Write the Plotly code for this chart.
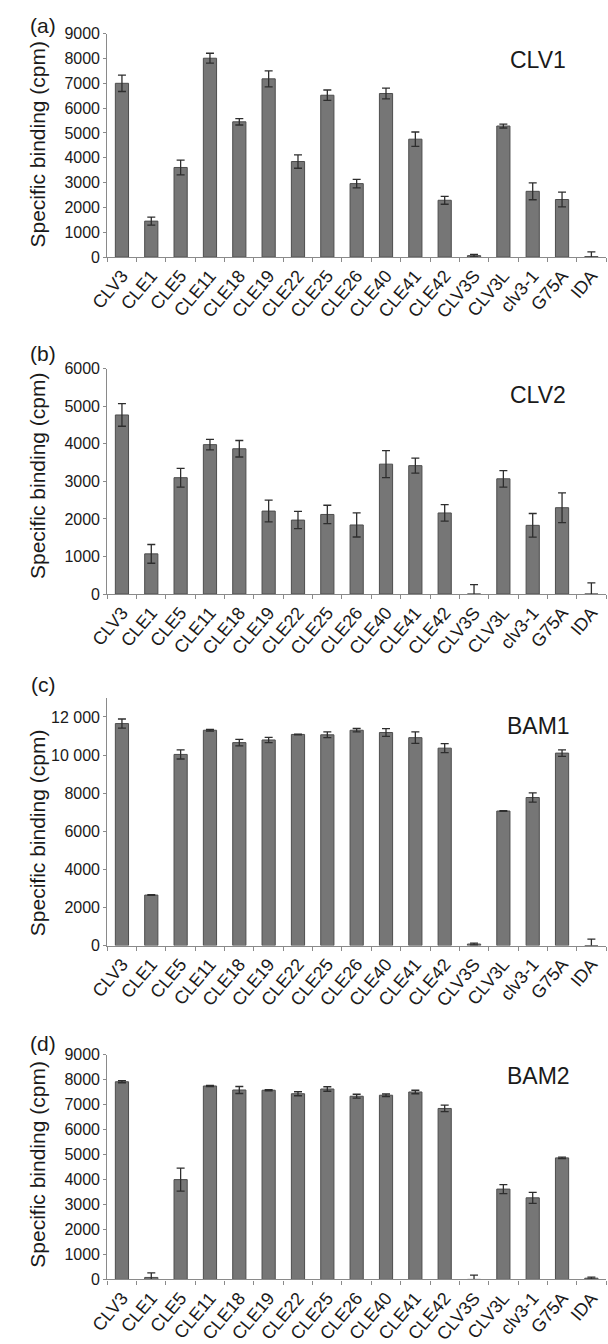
import plotly.graph_objects as go

categories = ["CLV3", "CLE1", "CLE5", "CLE11", "CLE18", "CLE19", "CLE22", "CLE25",
              "CLE26", "CLE40", "CLE41", "CLE42", "CLV3S", "CLV3L", "clv3-1", "G75A", "IDA"]

clv1_vals = [7000, 1450, 3610, 8010, 5450, 7180, 3850, 6520, 2960, 6590, 4750, 2290, 60, 5280, 2650, 2320, 20]
clv1_err = [330, 160, 300, 200, 130, 320, 270, 210, 170, 220, 290, 160, 50, 80, 340, 300, 190]

clv2_vals = [4770, 1070, 3100, 3980, 3870, 2210, 1970, 2120, 1840, 3460, 3420, 2160, 0, 3070, 1830, 2300, 0]
clv2_err = [300, 250, 250, 140, 220, 290, 230, 245, 320, 360, 200, 220, 250, 220, 315, 395, 300]

bam1_vals = [11650, 2650, 10030, 11300, 10650, 10790, 11080, 11060, 11300, 11180, 10910, 10360, 80, 7060, 7770, 10100, 0]
bam1_err = [240, 20, 240, 40, 170, 140, 20, 150, 90, 200, 300, 240, 50, 20, 240, 170, 340]

bam2_vals = [7920, 80, 4000, 7750, 7590, 7580, 7440, 7630, 7340, 7380, 7510, 6850, 0, 3620, 3270, 4870, 50]
bam2_err = [40, 180, 460, 20, 140, 20, 80, 90, 80, 50, 70, 130, 170, 180, 220, 30, 40]

panel_letters = ["(a)", "(b)", "(c)", "(d)"]
receptors = ["CLV1", "CLV2", "BAM1", "BAM2"]
y_title = "Specific binding (cpm)"

ticks_a = [0, 1000, 2000, 3000, 4000, 5000, 6000, 7000, 8000, 9000]
ticks_b = [0, 1000, 2000, 3000, 4000, 5000, 6000]
ticks_c = [0, 2000, 4000, 6000, 8000, 10000, 12000]
ticklabels_c = ["0", "2000", "4000", "6000", "8000", "10 000", "12 000"]
ticks_d = [0, 1000, 2000, 3000, 4000, 5000, 6000, 7000, 8000, 9000]

W, H = 608, 1344
FONT = "Liberation Sans, Arial, Helvetica, sans-serif"

def py(p):
    return 1 - p / H

def px(p):
    return p / W

panels = [
    dict(vals=clv1_vals, err=clv1_err, rng=[0, 9000], tv=ticks_a, tt=[str(t) for t in ticks_a],
         dom=[py(252.5), py(26)], letter_y=18, rec_y=53, title_y=138),
    dict(vals=clv2_vals, err=clv2_err, rng=[0, 6000], tv=ticks_b, tt=[str(t) for t in ticks_b],
         dom=[py(594), py(365.7)], letter_y=350, rec_y=392, title_y=474),
    dict(vals=bam1_vals, err=bam1_err, rng=[0, 13000], tv=ticks_c, tt=ticklabels_c,
         dom=[py(950.3), py(699.2)], letter_y=686, rec_y=728, title_y=836),
    dict(vals=bam2_vals, err=bam2_err, rng=[0, 9000], tv=ticks_d, tt=[str(t) for t in ticks_d],
         dom=[py(1288.7), py(1061)], letter_y=1050, rec_y=1083, title_y=1172),
]

fig = go.Figure()
annotations = []
layout = {}
for i, p in enumerate(panels):
    n = "" if i == 0 else str(i + 1)
    fig.add_trace(go.Bar(
        x=categories, y=p["vals"],
        xaxis="x" + n, yaxis="y" + n,
        marker=dict(color="#767676", line=dict(color="#4d4d4d", width=1)),
        error_y=dict(type="data", array=p["err"], visible=True,
                     color="#2e2e2e", thickness=1.3, width=4),
        showlegend=False,
    ))
    layout["xaxis" + n] = dict(
        domain=[px(92), px(606)], anchor="y" + n,
        type="category", tickangle=-50,
        tickfont=dict(family=FONT, size=18, color="#1a1a1a"),
        showline=True, linecolor="#8a8a8a", linewidth=1.2,
        ticks="outside", ticklen=4, tickcolor="#8a8a8a", tickson="boundaries",
        showgrid=False, zeroline=False, fixedrange=True,
    )
    layout["yaxis" + n] = dict(
        domain=p["dom"], anchor="x" + n, range=p["rng"],
        tickvals=p["tv"], ticktext=p["tt"],
        tickfont=dict(family=FONT, size=16, color="#1a1a1a"),
        showline=True, linecolor="#8a8a8a", linewidth=1.2,
        ticks="outside", ticklen=3, tickcolor="#8a8a8a",
        showgrid=False, zeroline=False, fixedrange=True,
    )
    annotations.append(dict(text=panel_letters[i], xref="paper", yref="paper",
                            x=px(26), y=py(p["letter_y"]), showarrow=False,
                            xanchor="center", yanchor="middle",
                            font=dict(family=FONT, size=21, color="#1a1a1a")))
    annotations.append(dict(text=receptors[i], xref="paper", yref="paper",
                            x=px(536), y=py(p["rec_y"]), showarrow=False,
                            xanchor="center", yanchor="middle",
                            font=dict(family=FONT, size=23, color="#1a1a1a")))
    annotations.append(dict(text=y_title, xref="paper", yref="paper",
                            x=px(20), y=py(p["title_y"]), showarrow=False,
                            textangle=-90, xanchor="center", yanchor="middle",
                            font=dict(family=FONT, size=21, color="#1a1a1a")))

fig.update_layout(
    width=W, height=H,
    margin=dict(l=0, r=0, t=0, b=0),
    paper_bgcolor="white", plot_bgcolor="white",
    bargap=0.55,
    annotations=annotations,
    **layout,
)

fig.write_html("out.html", config={"displayModeBar": False},
               post_script="document.body.style.margin='0';document.body.style.overflow='hidden';")
